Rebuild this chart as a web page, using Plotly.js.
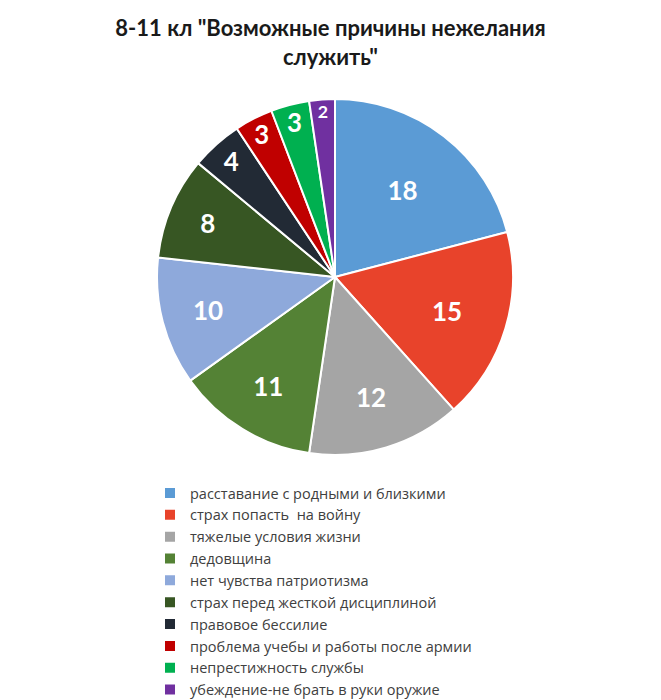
<!DOCTYPE html>
<html>
<head>
<meta charset="utf-8">
<script src="https://cdn.plot.ly/plotly-3.0.1.min.js"></script>
<style>html,body{margin:0;padding:0;background:#fff;}#chart{width:661px;height:700px;}</style>
</head>
<body>
<div id="chart"></div>
<script>
const categories = [
  "расставание с родными и близкими",
  "страх попасть  на войну",
  "тяжелые условия жизни",
  "дедовщина",
  "нет чувства патриотизма",
  "страх перед жесткой дисциплиной",
  "правовое бессилие",
  "проблема учебы и работы после армии",
  "непрестижность службы",
  "убеждение-не брать в руки оружие"
];
const values = [18, 15, 12, 11, 10, 8, 4, 3, 3, 2];
const colors = ["#5B9BD5", "#E8432B", "#A5A5A5", "#548235", "#8EA9DB", "#375623", "#222A35", "#C00000", "#00B050", "#7030A0"];
const titleText = '8-11 кл "Возможные причины нежелания<br>служить"';

const trace = {
  type: "pie",
  labels: categories,
  values: values,
  sort: false,
  direction: "clockwise",
  rotation: 0,
  marker: {colors: colors, line: {color: "#ffffff", width: 2}},
  textinfo: "value",
  textposition: "inside",
  insidetextorientation: "horizontal",
  insidetextfont: {family: "Lato, 'Open Sans', sans-serif", size: 26, color: "#ffffff", weight: "bold"},
  hoverinfo: "label+value",
  showlegend: true
};

const layout = {
  width: 661, height: 700,
  margin: {l: 157, r: 148, t: 99, b: 245, autoexpand: false},
  paper_bgcolor: "#ffffff",
  font: {family: "Lato, 'Open Sans', sans-serif", color: "#404040"},
  title: {
    text: titleText,
    font: {family: "Lato, 'Open Sans', sans-serif", size: 22, color: "#1a1a1a", weight: "bold"},
    xref: "container", yref: "container",
    x: 0.5, xanchor: "center", y: 0.948, yanchor: "middle"
  },
  legend: {
    orientation: "v",
    x: (150 - 157) / 356, xanchor: "left",
    y: (455 - 477) / 356, yanchor: "top",
    font: {family: "'Open Sans', sans-serif", size: 14.5, color: "#404040"},
    itemwidth: 30,
    tracegroupgap: 0,
    bgcolor: "rgba(0,0,0,0)"
  }
};

Plotly.newPlot("chart", [trace], layout, {displayModeBar: false});
</script>
</body>
</html>
